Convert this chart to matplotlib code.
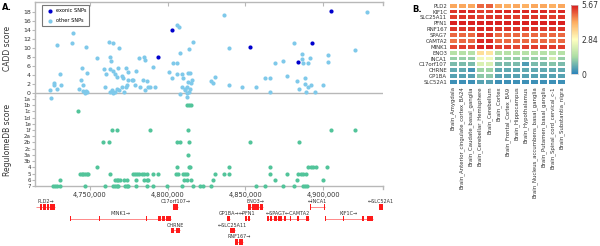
import matplotlib
matplotlib.use('Agg')
import matplotlib.pyplot as plt
import numpy as np
from matplotlib.colors import LinearSegmentedColormap
from matplotlib.ticker import FuncFormatter

# ---------------- data ----------------
# CADD scores (positions in kb on chr17)
other_pos = [4729.0, 4738.9, 4738.6, 4730.7, 4726.8, 4727.0, 4724.3, 4724.7, 4728.6, 4731.1,
             4744.7, 4744.0, 4745.3, 4742.9, 4745.7, 4746.8, 4747.4, 4748.3, 4747.2, 4748.3,
             4754.7, 4759.7, 4759.0, 4760.3, 4762.4, 4764.6, 4768.5, 4762.9, 4763.5, 4762.9,
             4764.6, 4766.1, 4767.2, 4768.2, 4770.4, 4771.4, 4773.2, 4774.6, 4774.6, 4773.6,
             4770.4, 4767.2, 4764.0, 4766.1, 4762.9, 4765.0, 4768.9, 4771.9, 4773.2, 4776.8,
             4777.9, 4778.9, 4779.6, 4781.7, 4784.9, 4785.4, 4783.9, 4786.5, 4787.5, 4785.4,
             4788.6, 4790.7, 4791.8, 4782.2, 4805.8, 4807.3, 4801.0, 4803.2, 4802.6, 4805.8,
             4807.9, 4805.8, 4809.0, 4810.0, 4811.1, 4812.2, 4813.3, 4814.4, 4813.7, 4816.5,
             4809.2, 4807.9, 4812.2, 4812.6, 4813.8, 4814.4, 4815.0, 4813.1, 4815.4, 4811.3,
             4836.4, 4839.4, 4827.9, 4829.3, 4830.4, 4839.6, 4848.0, 4856.6, 4862.6, 4865.8,
             4865.8, 4868.9, 4874.4, 4876.8, 4881.3, 4886.2, 4886.2, 4887.3, 4890.5, 4891.6,
             4883.0, 4884.7, 4888.4, 4888.4, 4890.5, 4892.2, 4888.8, 4894.8, 4900.1, 4903.0,
             4903.0, 4920.7, 4928.2]
other_cadd = [10.7, 13.4, 11.2, 4.2, 2.3, 1.8, 0.7, -1.0, 0.8, 1.8,
              5.5, 3.0, 1.8, 0.8, 0.5, 0.1, 0.4, 0.3, 10.3, 4.5,
              7.7, 1.4, 5.3, 4.2, 11.3, 11.0, 10.1, 8.1, 7.0, 5.3,
              4.9, 4.2, 3.5, 5.5, 3.8, 3.3, 5.5, 4.7, 2.9, 1.8,
              1.4, 1.0, 0.7, 0.3, 0.3, 0.1, 0.7, 0.3, 1.3, 2.9,
              3.0, 1.8, 5.0, 7.8, 7.9, 7.3, 2.9, 2.7, 1.4, 0.7,
              1.3, 5.7, 1.3, 1.4, 15.1, 14.6, 4.7, 6.6, 3.3, 4.2,
              8.8, 6.6, 4.2, 3.3, 0.7, 1.4, 2.5, 4.4, 9.8, 11.4,
              1.3, -0.3, -0.8, 0.0, 0.3, 1.0, 2.2, 4.4, 2.9, 1.0,
              17.3, 9.9, 2.7, 2.2, 3.6, 1.8, 1.3, 1.4, 3.3, 3.3,
              0.3, 6.6, 7.2, 3.7, 11.0, 8.7, 7.6, 6.7, 6.7, 7.8,
              2.7, 0.9, 3.3, 2.0, 1.3, 1.8, 0.15, 0.3, 1.8, 8.4,
              6.8, 9.5, 18.0]
exonic_pos = [4794.0, 4803.0, 4853.0, 4883.8, 4892.7, 4904.9]
exonic_cadd = [7.9, 14.0, 10.2, 6.8, 11.2, 18.2]

# RegulomeDB scores
reg_levels = ['1a', '1b', '1c', '1d', '1e', '1f', '2a', '2b', '2c', '3a', '3b', '4', '5', '6', '7']
reg_pos = [4742.3,
           4812.4, 4813.7, 4814.8,
           4764.0, 4767.2, 4788.6, 4813.3, 4905.1, 4920.5,
           4758.6, 4762.4, 4805.8, 4807.9, 4813.7, 4853.0, 4884.7,
           4812.9,
           4754.7, 4805.8, 4813.7, 4814.4, 4839.6, 4865.8, 4890.5, 4892.0, 4893.7, 4895.4, 4902.3,
           4743.6, 4744.7, 4745.7, 4746.8, 4747.9, 4748.9, 4762.9, 4777.9, 4778.9, 4780.0,
           4781.7, 4783.3, 4784.7, 4786.5, 4790.3, 4794.0, 4805.1, 4806.8, 4810.0, 4811.1,
           4812.2, 4830.4, 4836.4, 4839.6, 4865.8, 4877.0, 4884.0, 4885.6, 4887.3, 4889.0,
           4730.7, 4766.1, 4767.2, 4768.2, 4769.3, 4771.9, 4773.6, 4779.6, 4784.7, 4786.5,
           4787.5, 4810.7, 4812.2, 4814.8, 4829.0, 4869.0, 4883.0, 4900.1,
           4726.4, 4727.5, 4729.0, 4730.7, 4746.8, 4759.8, 4765.0, 4766.1, 4767.2, 4768.2,
           4772.5, 4773.6, 4774.6, 4779.6, 4786.5, 4790.7, 4799.3, 4809.0, 4816.5, 4820.8,
           4822.5, 4827.7, 4856.8, 4862.6, 4874.4, 4881.3, 4887.3, 4888.4, 4889.4]
reg_score = (['1c'] + ['1b'] * 3 + ['1f'] * 6 + ['2b'] * 7 + ['3a'] + ['4'] * 11
             + ['5'] * 30 + ['6'] * 18 + ['7'] * 29)

# Genes (kb)
gene_names = ['PLD2', 'C17orf107', 'ENO3', 'INCA1', 'SLC52A1', 'MINK1', 'GP1BA', 'PFN1',
              'SPAG7', 'CAMTA2', 'KIF1C', 'CHRNE', 'SLC25A11', 'RNF167']
gene_labels = ['PLD2\u2192', 'C17orf107\u2192', 'ENO3\u2192', '\u2190INCA1', '\u2190SLC52A1',
               'MINK1\u2192', 'GP1BA\u2192', '\u2190PFN1', '\u2190SPAG7\u2190CAMTA2', '',
               'KIF1C\u2192', 'CHRNE', '\u2190SLC25A11', 'RNF167\u2192']
gene_start = [4715.3, 4803.4, 4851.7, 4891.6, 4936.0, 4737.1, 4838.2, 4849.7,
              4863.9, 4873.6, 4901.2, 4802.1, 4840.1, 4843.3]
gene_end = [4727.5, 4806.6, 4861.3, 4901.2, 4938.5, 4802.1, 4840.1, 4853.0,
            4873.6, 4890.9, 4932.1, 4807.9, 4843.3, 4848.5]
gene_row = [0, 0, 0, 0, 0, 1, 1, 1, 1, 1, 1, 2, 2, 3]
gene_exons = [
    [(4717.5, 4719.0), (4720.0, 4721.5), (4722.3, 4723.5), (4724.5, 4727.5)],
    [(4803.4, 4806.6)],
    [(4851.7, 4853.5), (4854.5, 4856.5), (4857.0, 4858.5), (4859.3, 4861.3)],
    [(4891.6, 4892.3), (4900.5, 4901.2)],
    [(4936.0, 4938.5)],
    [(4737.1, 4737.6), (4756.0, 4756.5), (4786.0, 4786.6), (4794.0, 4795.5), (4796.3, 4798.0), (4798.8, 4802.1)],
    [(4838.2, 4840.1)],
    [(4849.7, 4850.8), (4851.5, 4853.0)],
    [(4863.9, 4865.0), (4866.0, 4867.2), (4868.5, 4870.0), (4871.0, 4873.6)],
    [(4875.0, 4876.0), (4878.5, 4879.5), (4883.0, 4884.2), (4889.0, 4890.9)],
    [(4901.2, 4901.6), (4913.0, 4913.6), (4925.0, 4926.0), (4928.0, 4932.1)],
    [(4802.1, 4804.0), (4805.0, 4807.9)],
    [(4840.1, 4843.3)],
    [(4843.3, 4845.2), (4846.0, 4848.5)],
]

# Heatmap
heat_rows = ['PLD2', 'KIF1C', 'SLC25A11', 'PFN1', 'RNF167', 'SPAG7', 'CAMTA2', 'MINK1',
             'ENO3', 'INCA1', 'C17orf107', 'CHRNE', 'GP1BA', 'SLC52A1']
heat_cols = ['Brain_Amygdala', 'Brain_Anterior_cingulate_cortex_BA24', 'Brain_Caudate_basal_ganglia',
             'Brain_Cerebellar_Hemisphere', 'Brain_Cerebellum', 'Brain_Cortex', 'Brain_Frontal_Cortex_BA9',
             'Brain_Hippocampus', 'Brain_Hypothalamus', 'Brain_Nucleus_accumbens_basal_ganglia',
             'Brain_Putamen_basal_ganglia', 'Brain_Spinal_cord_cervical_c-1', 'Brain_Substantia_nigra']
heat_values = [
    [4.3, 4.3, 4.3, 4.9, 5.0, 4.3, 4.2, 4.3, 4.2, 4.3, 4.3, 4.2, 4.3],
    [5.4, 5.5, 5.5, 5.3, 5.3, 5.5, 5.5, 5.5, 5.5, 5.5, 5.5, 5.4, 5.5],
    [5.3, 5.4, 5.4, 5.3, 5.4, 5.4, 5.4, 5.3, 5.4, 5.4, 5.4, 5.3, 5.4],
    [5.6, 5.6, 5.6, 5.6, 5.6, 5.6, 5.6, 5.6, 5.6, 5.6, 5.6, 5.6, 5.6],
    [5.4, 5.4, 5.4, 5.5, 5.5, 5.4, 5.4, 5.4, 5.4, 5.4, 5.4, 5.4, 5.4],
    [4.9, 4.9, 4.9, 5.4, 5.4, 4.9, 4.9, 4.9, 4.9, 4.9, 4.9, 4.9, 4.9],
    [4.8, 4.9, 4.9, 5.5, 5.5, 4.9, 4.9, 4.9, 4.9, 4.9, 4.9, 4.8, 4.9],
    [5.2, 5.3, 5.3, 5.6, 5.6, 5.3, 5.3, 5.2, 5.3, 5.3, 5.3, 5.3, 5.3],
    [1.6, 1.6, 1.6, 3.4, 3.3, 1.6, 1.6, 1.6, 1.6, 1.6, 1.6, 1.7, 1.6],
    [1.2, 1.2, 1.2, 2.6, 2.6, 1.2, 1.2, 1.2, 1.2, 1.2, 1.2, 2.1, 1.2],
    [0.9, 0.9, 0.9, 2.2, 2.2, 0.9, 0.9, 0.9, 0.4, 0.9, 0.9, 1.0, 0.9],
    [0.6, 0.6, 0.3, 1.3, 1.3, 0.6, 0.6, 0.6, 0.6, 0.6, 0.6, 0.6, 0.6],
    [0.5, 0.5, 0.5, 1.1, 1.1, 0.5, 0.5, 0.5, 0.5, 0.5, 0.5, 0.5, 0.5],
    [0.2, 0.2, 0.2, 0.5, 0.5, 0.2, 0.2, 0.2, 0.2, 0.2, 0.2, 0.2, 0.2],
]
cbar_ticks = [0, 2.84, 5.67]

# ---------------- styling ----------------
light_blue = '#7fc9ea'
dark_blue = '#0000cd'
teal = '#52c49a'
gene_red = '#ff1a1a'
spine_c = '#b8b8b8'
txt_c = '#333333'

W, H = 600, 246
fig = plt.figure(figsize=(W / 100, H / 100), dpi=100)

def fx(px):
    return px / W

def fy(py):
    return 1 - py / H

xl, xr = 4714.6, 4938.5
xt = [4750, 4800, 4850, 4900]

# --- CADD panel ---
ax1 = fig.add_axes([fx(35), fy(96), fx(383 - 35), (96 - 2) / H])
ax1.scatter(other_pos, other_cadd, s=9, color=light_blue, lw=0, label='other SNPs', clip_on=False, zorder=3)
ax1.scatter(exonic_pos, exonic_cadd, s=9, color=dark_blue, lw=0, label='exonic SNPs', clip_on=False, zorder=4)
ax1.set_xlim(xl, xr)
ax1.set_ylim((93 - 96) / 4.5, (93 - 2) / 4.5)
ax1.axhline(0, color=spine_c, lw=1, zorder=1)
ax1.set_yticks(range(0, 19, 2))
ax1.set_xticks(xt)
for s in ['right', 'bottom']:
    ax1.spines[s].set_visible(False)
for s in ['left', 'top']:
    ax1.spines[s].set_color(spine_c)
    ax1.spines[s].set_linewidth(1)
ax1.tick_params(axis='x', top=True, bottom=False, labeltop=False, labelbottom=False,
                direction='in', length=3, color=spine_c)
ax1.tick_params(axis='y', labelsize=4.5, length=2, pad=1, color=spine_c, labelcolor=txt_c)
ax1.plot([xr, xr], [ax1.get_ylim()[1], ax1.get_ylim()[1] - 0.7], color=spine_c, lw=1, clip_on=False)
ax1.patch.set_alpha(0)
h, l = ax1.get_legend_handles_labels()
leg = ax1.legend(h[::-1], l[::-1], loc='upper left', bbox_to_anchor=(0.012, 0.99), fontsize=3.6,
                 frameon=True, fancybox=False, edgecolor='#555555', borderpad=0.6,
                 handletextpad=0.2, labelspacing=0.9, markerscale=1.0)
leg.get_frame().set_linewidth(0.8)

# --- RegulomeDB panel ---
ax2 = fig.add_axes([fx(35), fy(186), fx(383 - 35), (186 - 96) / H])
reg_y = [len(reg_levels) - 1 - reg_levels.index(s) for s in reg_score]
ax2.scatter(reg_pos, reg_y, s=9, color=teal, lw=0, clip_on=False, zorder=3)
ax2.set_xlim(xl, xr)
ax2.set_ylim(0, 14.48)
ax2.set_yticks(range(len(reg_levels)))
ax2.set_yticklabels(reg_levels[::-1])
ax2.set_xticks(xt)
ax2.xaxis.set_major_formatter(FuncFormatter(lambda v, p: f"{int(round(v * 1000)):,}"))
for s in ['right', 'top']:
    ax2.spines[s].set_visible(False)
for s in ['left', 'bottom']:
    ax2.spines[s].set_color(spine_c)
    ax2.spines[s].set_linewidth(1)
ax2.tick_params(axis='x', labelsize=4.8, length=3, pad=1.2, color=spine_c, labelcolor=txt_c)
ax2.tick_params(axis='y', labelsize=4, length=2, pad=1, color=spine_c, labelcolor=txt_c)
ax2.plot([xr, xr], [0, -0.5], color=spine_c, lw=1, clip_on=False)
ax2.patch.set_alpha(0)

fig.text(fx(8), fy(48), 'CADD score', rotation=90, ha='center', va='center', fontsize=5.5, color=txt_c)
fig.text(fx(8), fy(140), 'RegulomeDB score', rotation=90, ha='center', va='center', fontsize=5.5, color=txt_c)
fig.text(fx(2), fy(8), 'A.', fontsize=6, fontweight='bold', va='center', ha='left')

# --- gene track ---
ax3 = fig.add_axes([fx(35), 0, fx(383 - 35), (246 - 196) / H])
ax3.set_xlim(xl, xr)
ax3.set_ylim(3.34, -0.94)
ax3.axis('off')
for st, en, row, exons in zip(gene_start, gene_end, gene_row, gene_exons):
    ax3.plot([st, en], [row, row], color=gene_red, lw=0.6, alpha=0.6, solid_capstyle='butt')
    for es, ee in exons:
        ax3.add_patch(plt.Rectangle((es, row - 0.22), ee - es, 0.44, color=gene_red, lw=0))
for i, (lab, st, en, row) in enumerate(zip(gene_labels, gene_start, gene_end, gene_row)):
    if not lab:
        continue
    if gene_names[i] == 'SPAG7':
        en = gene_end[i + 1]
    ax3.text((st + en) / 2, row - 0.45, lab, fontsize=3.5, color=txt_c, ha='center', va='center')

# --- heatmap ---
spectral5 = LinearSegmentedColormap.from_list('sp5', ['#2b83ba', '#abdda4', '#ffffbf', '#fdae61', '#d7191c'])
ax4 = fig.add_axes([fx(448.5), fy(85), fx(566 - 448.5), (85 - 2.7) / H])
vals = np.array(heat_values)
mesh = ax4.pcolormesh(vals, cmap=spectral5, vmin=0, vmax=5.67, edgecolors='white', linewidth=0.3)
ax4.set_xlim(0, len(heat_cols))
ax4.set_ylim(len(heat_rows), 0)
ax4.set_xticks(np.arange(len(heat_cols)) + 0.5)
ax4.set_xticklabels(heat_cols, rotation=90, fontsize=3.9, color=txt_c)
ax4.set_yticks(np.arange(len(heat_rows)) + 0.5)
ax4.set_yticklabels(heat_rows, fontsize=3.9, color=txt_c)
ax4.tick_params(length=0, pad=1)
for s in ax4.spines.values():
    s.set_visible(False)

cax = fig.add_axes([fx(570.7), fy(74), fx(7.6), (74 - 5) / H])
cb = fig.colorbar(mesh, cax=cax, ticks=cbar_ticks)
cb.ax.set_yticklabels(['0', '2.84', '5.67'])
cb.ax.tick_params(labelsize=5.5, length=0, pad=2, labelcolor=txt_c)
cb.outline.set_edgecolor('#cccccc')
cb.outline.set_linewidth(0.5)
fig.text(fx(412), fy(9), 'B.', fontsize=6, fontweight='bold', va='center', ha='left')

fig.savefig('out.png', dpi=100)
